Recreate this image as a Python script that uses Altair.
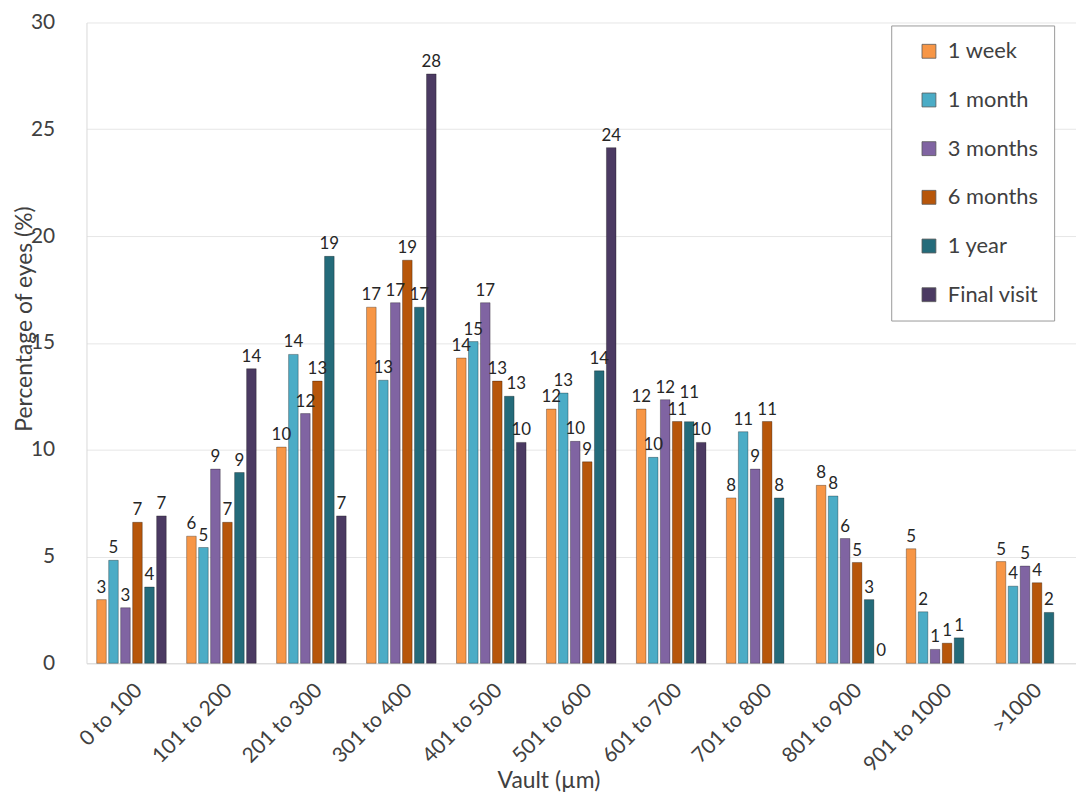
import altair as alt
import pandas as pd

categories = ["0 to 100", "101 to 200", "201 to 300", "301 to 400", "401 to 500",
              "501 to 600", "601 to 700", "701 to 800", "801 to 900", "901 to 1000", ">1000"]
series = ["1 week", "1 month", "3 months", "6 months", "1 year", "Final visit"]
colors = ["#F79646", "#4BACC6", "#8064A2", "#B7560A", "#246B7A", "#4B3A62"]

week1 = [2.98, 5.95, 10.12, 16.67, 14.29, 11.90, 11.90, 7.74, 8.33, 5.36, 4.76]
month1 = [4.82, 5.42, 14.46, 13.25, 15.06, 12.65, 9.64, 10.84, 7.83, 2.41, 3.61]
month3 = [2.60, 9.09, 11.69, 16.88, 16.88, 10.39, 12.34, 9.09, 5.84, 0.65, 4.55]
month6 = [6.60, 6.60, 13.21, 18.87, 13.21, 9.43, 11.32, 11.32, 4.72, 0.94, 3.77]
year1 = [3.57, 8.93, 19.05, 16.67, 12.50, 13.69, 11.31, 7.74, 2.98, 1.19, 2.38]
final = [6.90, 13.79, 6.90, 27.59, 10.34, 24.14, 10.34, None, 0.0, None, None]

y_ticks = [0, 5, 10, 15, 20, 25, 30]

PX_PER_UNIT = 645 / 30.0
rows = []
for gi, c in enumerate(categories):
    prev = None
    for name, vals in zip(series, [week1, month1, month3, month6, year1, final]):
        v = vals[gi]
        if v is None:
            continue
        label_y = v
        shift = False
        if prev is not None and v >= 9.5 and prev >= 9.5:
            gap = (v - prev) * PX_PER_UNIT
            if abs(gap) < 12:
                # lift a label that would sit on top of its left neighbour's label
                label_y = prev + 17 / PX_PER_UNIT
            elif -17 < gap < 0:
                # slightly lower neighbour: move its label aside
                shift = True
        rows.append({"vault": c, "series": name, "pct": v, "label_y": label_y, "shift": shift})
        prev = label_y
df = pd.DataFrame(rows)

FONT = "Lato"
TXT = "#404040"

x_enc = alt.X("vault:N", sort=categories,
              scale=alt.Scale(domain=categories, paddingInner=0.2, paddingOuter=0.1),
              axis=alt.Axis(title="Vault (µm)", labelAngle=315, labelAlign="right",
                            labelBaseline="top", labelPadding=16, ticks=False,
                            domainColor="#d9d9d9", labelFontSize=21, labelColor=TXT,
                            titleFontSize=23, titleColor=TXT, titleFontWeight="normal",
                            titleX=465, titleY=125, titleBaseline="alphabetic",
                            titleAlign="center"))
xo_enc = alt.XOffset("series:N", sort=series,
                     scale=alt.Scale(domain=series, paddingInner=0.2, paddingOuter=0.1))
y_enc = alt.Y("pct:Q", scale=alt.Scale(domain=[0, 30], nice=False),
              axis=alt.Axis(title="Percentage of eyes (%)", values=y_ticks, ticks=False,
                            labelPadding=32, labelFontSize=21, labelColor=TXT,
                            gridColor="#e6e6e6", domainColor="#d9d9d9",
                            titleFontSize=23, titleColor=TXT, titleFontWeight="normal",
                            titleX=-62, titleY=298, titleAngle=270, titleAlign="center",
                            titleBaseline="middle"))

bars = alt.Chart(df).transform_filter("datum.pct > 0").mark_bar(
    stroke="black", strokeOpacity=0.3, strokeWidth=1).encode(
    x=x_enc, xOffset=xo_enc, y=y_enc,
    color=alt.Color("series:N", sort=series,
                    scale=alt.Scale(domain=series, range=colors),
                    legend=alt.Legend(title=None, orient="none", legendX=810, legendY=3,
                                      padding=15, symbolOffset=12, symbolType="square",
                                      symbolSize=196, symbolStrokeColor="#595959",
                                      symbolStrokeWidth=0.8, labelFontSize=22,
                                      labelColor=TXT, labelOffset=8, rowPadding=27,
                                      fillColor="white", strokeColor="#999999")),
)

label_enc = dict(
    x=alt.X("vault:N", sort=categories), xOffset=alt.XOffset("series:N", sort=series),
    y=alt.Y("label_y:Q"),
    text=alt.Text("pct:Q", format=".0f"),
)
labels = alt.Chart(df).transform_filter("!datum.shift").mark_text(
    baseline="bottom", dy=-3, fontSize=17, color="#262626").encode(**label_enc)
labels_aside = alt.Chart(df).transform_filter("datum.shift").mark_text(
    baseline="bottom", dy=-3, dx=7, fontSize=17, color="#262626").encode(**label_enc)

chart = alt.layer(bars, labels, labels_aside).properties(
    width=996, height=645,
    autosize=alt.AutoSizeParams(type="none"),
    padding={"left": 79, "top": 12, "right": 0, "bottom": 129},
    background="white",
).configure(font=FONT).configure_view(stroke=None)

chart.save("out.html", embed_options={"renderer": "svg", "actions": False})
